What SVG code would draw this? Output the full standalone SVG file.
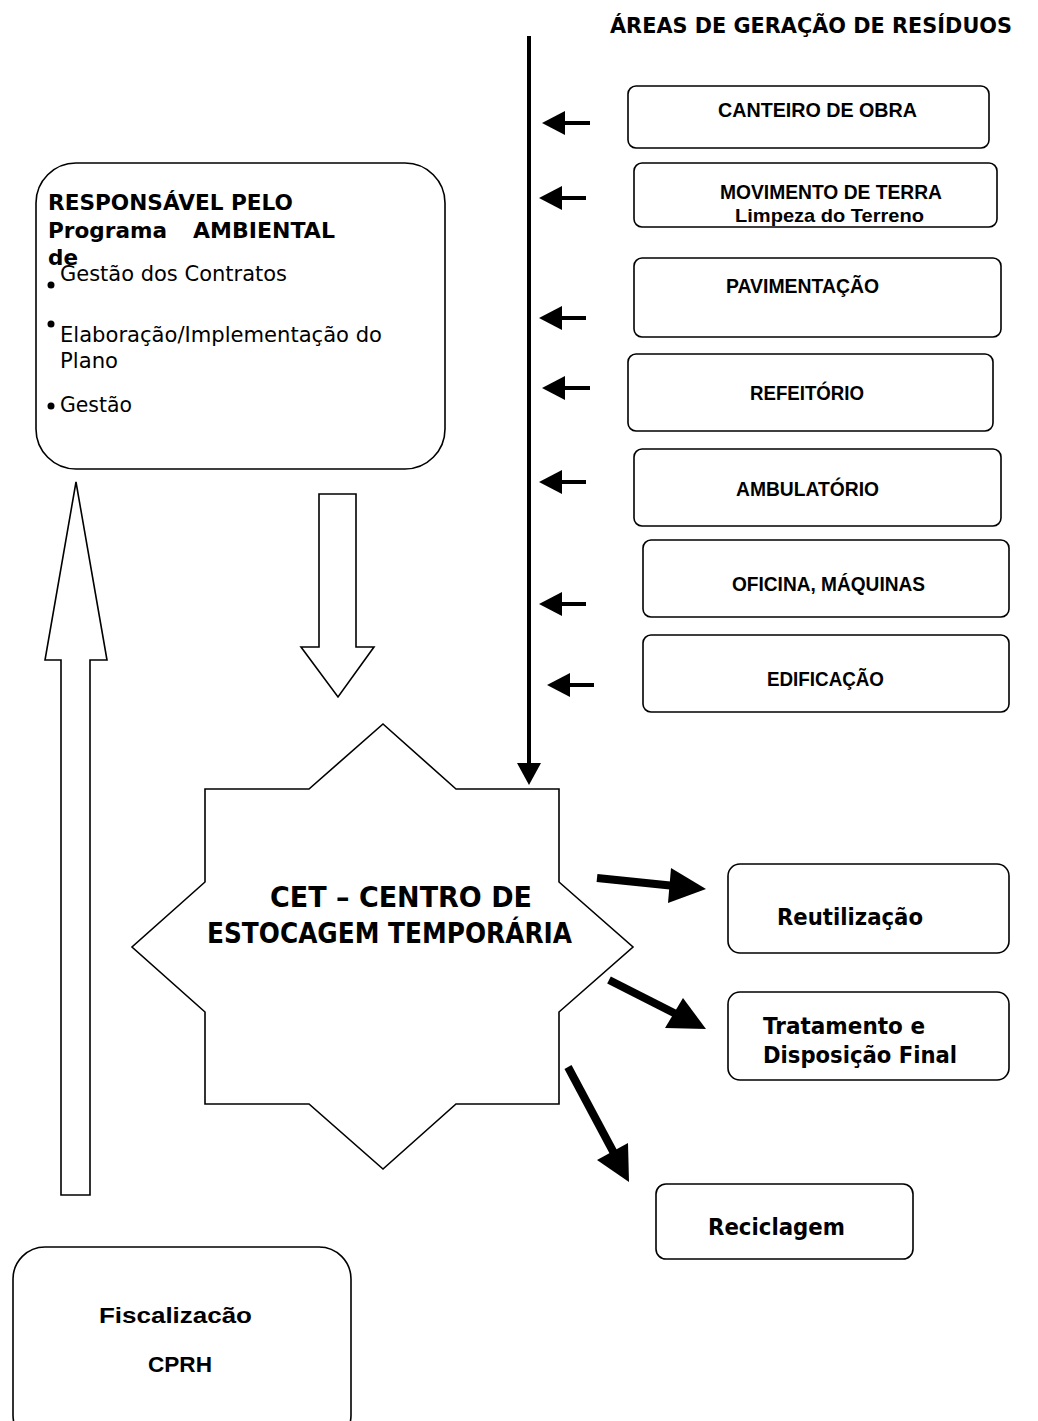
<svg xmlns="http://www.w3.org/2000/svg" width="1038" height="1421" viewBox="0 0 1038 1421">
<style>
.box{fill:#fff;stroke:#000;stroke-width:1.6}
.hollow{fill:#fff;stroke:#000;stroke-width:1.6;stroke-linejoin:miter}
.tb{font-family:"DejaVu Sans",Verdana,sans-serif;font-weight:bold;fill:#000}
.tr{font-family:"DejaVu Sans",Verdana,sans-serif;fill:#000}
.nb{font-family:"Liberation Sans",Arial,sans-serif;font-weight:bold;fill:#000}
.thin{stroke:#000;stroke-width:4;fill:none}
.thick{stroke:#000;stroke-width:8;fill:none}
</style>
<rect width="1038" height="1421" fill="#fff"/>

<g id="title">
<text class="tb" x="610" y="33" font-size="21" textLength="402" lengthAdjust="spacingAndGlyphs">ÁREAS DE GERAÇÃO DE RESÍDUOS</text>
</g>

<g id="responsavel">
<rect class="box" x="36" y="163" width="409" height="306" rx="40" ry="40"/>
<text class="tb" x="48" y="210" font-size="22" textLength="245" lengthAdjust="spacingAndGlyphs">RESPONSÁVEL PELO</text>
<text class="tb" x="48" y="238" font-size="22" textLength="119" lengthAdjust="spacingAndGlyphs">Programa</text>
<text class="tb" x="193" y="238" font-size="22" textLength="142" lengthAdjust="spacingAndGlyphs">AMBIENTAL</text>
<text class="tb" x="48" y="265" font-size="22" textLength="30" lengthAdjust="spacingAndGlyphs">de</text>
<circle cx="51" cy="285" r="3.5"/>
<text class="tr" x="60" y="281" font-size="22" textLength="227" lengthAdjust="spacingAndGlyphs">Gestão dos Contratos</text>
<circle cx="51" cy="324" r="3.5"/>
<text class="tr" x="60" y="342" font-size="22" textLength="322" lengthAdjust="spacingAndGlyphs">Elaboração/Implementação do</text>
<text class="tr" x="60" y="368" font-size="22" textLength="58" lengthAdjust="spacingAndGlyphs">Plano</text>
<circle cx="51" cy="406" r="3.5"/>
<text class="tr" x="60" y="412" font-size="22" textLength="72" lengthAdjust="spacingAndGlyphs">Gestão</text>
</g>

<g id="canteiro">
<rect class="box" x="628" y="86" width="361" height="62" rx="8"/>
<text class="nb" x="718" y="117" font-size="21" textLength="199" lengthAdjust="spacingAndGlyphs">CANTEIRO DE OBRA</text>
</g>
<g id="movimento">
<rect class="box" x="634" y="163" width="363" height="64" rx="8"/>
<text class="nb" x="720" y="199" font-size="20" textLength="222" lengthAdjust="spacingAndGlyphs">MOVIMENTO DE TERRA</text>
<text class="nb" x="735" y="222" font-size="19" textLength="189" lengthAdjust="spacingAndGlyphs">Limpeza do Terreno</text>
</g>
<g id="pavimentacao">
<rect class="box" x="634" y="258" width="367" height="79" rx="8"/>
<text class="nb" x="726" y="293" font-size="21" textLength="153" lengthAdjust="spacingAndGlyphs">PAVIMENTAÇÃO</text>
</g>
<g id="refeitorio">
<rect class="box" x="628" y="354" width="365" height="77" rx="8"/>
<text class="nb" x="750" y="400" font-size="21" textLength="114" lengthAdjust="spacingAndGlyphs">REFEITÓRIO</text>
</g>
<g id="ambulatorio">
<rect class="box" x="634" y="449" width="367" height="77" rx="8"/>
<text class="nb" x="736" y="496" font-size="21" textLength="143" lengthAdjust="spacingAndGlyphs">AMBULATÓRIO</text>
</g>
<g id="oficina">
<rect class="box" x="643" y="540" width="366" height="77" rx="8"/>
<text class="nb" x="732" y="591" font-size="21" textLength="193" lengthAdjust="spacingAndGlyphs">OFICINA, MÁQUINAS</text>
</g>
<g id="edificacao">
<rect class="box" x="643" y="635" width="366" height="77" rx="8"/>
<text class="nb" x="767" y="686" font-size="21" textLength="117" lengthAdjust="spacingAndGlyphs">EDIFICAÇÃO</text>
</g>

<g id="cet">
<polygon class="hollow" points="383,724 456,789 559,789 559,882 633,947 559,1012 559,1104 456,1104 383,1169 309,1104 205,1104 205,1012 132,947 205,882 205,789 309,789"/>
<text class="tb" x="270" y="907" font-size="28" textLength="262" lengthAdjust="spacingAndGlyphs">CET – CENTRO DE</text>
<text class="tb" x="207" y="943" font-size="28" textLength="365" lengthAdjust="spacingAndGlyphs">ESTOCAGEM TEMPORÁRIA</text>
</g>

<g id="reutilizacao">
<rect class="box" x="728" y="864" width="281" height="89" rx="12"/>
<text class="tb" x="777" y="925" font-size="23" textLength="146" lengthAdjust="spacingAndGlyphs">Reutilização</text>
</g>
<g id="tratamento">
<rect class="box" x="728" y="992" width="281" height="88" rx="12"/>
<text class="tb" x="763" y="1034" font-size="23" textLength="162" lengthAdjust="spacingAndGlyphs">Tratamento e</text>
<text class="tb" x="763" y="1063" font-size="23" textLength="194" lengthAdjust="spacingAndGlyphs">Disposição Final</text>
</g>
<g id="reciclagem">
<rect class="box" x="656" y="1184" width="257" height="75" rx="10"/>
<text class="tb" x="708" y="1235" font-size="23" textLength="137" lengthAdjust="spacingAndGlyphs">Reciclagem</text>
</g>

<g id="fiscalizacao">
<rect class="box" x="13" y="1247" width="338" height="200" rx="32"/>
<text class="nb" x="99" y="1323" font-size="22" textLength="153" lengthAdjust="spacingAndGlyphs">Fiscalizacão</text>
<text class="nb" x="148" y="1372" font-size="22" textLength="64" lengthAdjust="spacingAndGlyphs">CPRH</text>
</g>

<g id="connectors">
<line class="thin" x1="529" y1="36" x2="529" y2="766"/>
<polygon points="517,763 541,763 529,785" fill="#000"/>
<g fill="#000">
<line class="thin" x1="590" y1="123" x2="560" y2="123"/><polygon points="542,123 565,111 565,135"/>
<line class="thin" x1="586" y1="198" x2="556" y2="198"/><polygon points="539,198 562,186 562,210"/>
<line class="thin" x1="586" y1="318" x2="556" y2="318"/><polygon points="539,318 562,306 562,330"/>
<line class="thin" x1="590" y1="388" x2="560" y2="388"/><polygon points="542,388 565,376 565,400"/>
<line class="thin" x1="586" y1="482" x2="556" y2="482"/><polygon points="539,482 562,470 562,494"/>
<line class="thin" x1="586" y1="604" x2="556" y2="604"/><polygon points="539,604 562,592 562,616"/>
<line class="thin" x1="594" y1="685" x2="564" y2="685"/><polygon points="547,685 570,673 570,697"/>
</g>
<polygon class="hollow" points="76,482 107,660 90,660 90,1195 61,1195 61,660 45,660"/>
<polygon class="hollow" points="319,494 356,494 356,647 374,647 338,697 301,647 319,647"/>
<g fill="#000">
<line class="thick" x1="597" y1="878" x2="675" y2="886"/><polygon points="706,889 671,868 668,903"/>
<line class="thick" x1="609" y1="980" x2="680" y2="1016"/><polygon points="706,1029 683,998 665,1028"/>
<line class="thick" x1="568" y1="1067" x2="615" y2="1155"/><polygon points="629,1182 597,1160 628,1143"/>
</g>
</g>
</svg>
